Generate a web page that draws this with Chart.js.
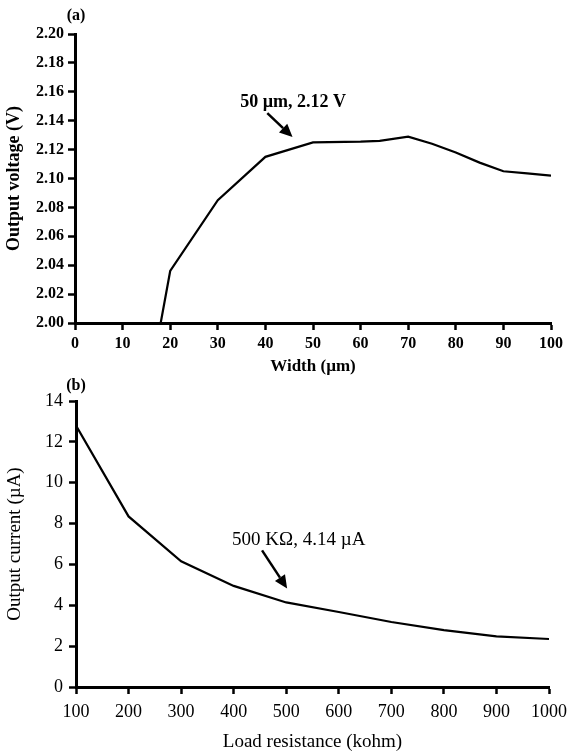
<!DOCTYPE html>
<html>
<head>
<meta charset="utf-8">
<script src="https://cdn.jsdelivr.net/npm/chart.js@4.4.1/dist/chart.umd.min.js"></script>
<style>
  html, body { margin: 0; padding: 0; background: #fff; }
  #wrapA { position: absolute; left: 0; top: 0; width: 574px; height: 380px; }
  #wrapB { position: absolute; left: 0; top: 370px; width: 574px; height: 383px; }
</style>
</head>
<body>
<div id="wrapA"><canvas id="chartA"></canvas></div>
<div id="wrapB"><canvas id="chartB"></canvas></div>
<script>
// (a) output voltage vs width
var widthUm = [18, 20, 30, 40, 50, 60, 64, 70, 75, 80, 85, 90, 95, 100];
var voltageV = [2.000, 2.036, 2.085, 2.115, 2.125, 2.1255, 2.126, 2.129, 2.124, 2.118, 2.111, 2.105, 2.1035, 2.102];
var voltageTicks = [2.00, 2.02, 2.04, 2.06, 2.08, 2.10, 2.12, 2.14, 2.16, 2.18, 2.20];
var widthTicks = [0, 10, 20, 30, 40, 50, 60, 70, 80, 90, 100];

// (b) output current vs load resistance
var loadKohm = [100, 200, 300, 400, 500, 600, 700, 800, 900, 1000];
var currentUA = [12.8, 8.35, 6.15, 4.95, 4.14, 3.67, 3.18, 2.78, 2.48, 2.35];
var currentTicks = [0, 2, 4, 6, 8, 10, 12, 14];
var loadTicks = [100, 200, 300, 400, 500, 600, 700, 800, 900, 1000];

var FONT = "'Liberation Serif', 'Times New Roman', serif";

function toPoints(xs, ys) {
  return xs.map(function (x, i) { return { x: x, y: ys[i] }; });
}

function fixedTicks(list) {
  return function (scale) {
    scale.ticks = list.map(function (v) { return { value: v }; });
  };
}

// panel letter, callout text and arrow, given in data units
var notes = {
  chartA: { tag: '(a)', tagX: 76, tagY: 16, text: '50 \u00b5m, 2.12 V', tx: 34.7, ty: 2.1495, ax: 40.4, ay: 2.1453, bx: 45.7, by: 2.1287, weight: 'bold', size: 18 },
  chartB: { tag: '(b)', tagX: 76, tagY: 16, text: '500 K\u03a9, 4.14 \u00b5A', tx: 397, ty: 6.94, ax: 454, ay: 6.69, bx: 501.7, by: 4.82, weight: 'normal', size: 19 }
};

var notePlugin = {
  id: 'notes',
  afterDraw: function (chart) {
    var n = notes[chart.canvas.id];
    var ctx = chart.ctx, xs = chart.scales.x, ys = chart.scales.y;
    ctx.save();
    ctx.fillStyle = '#000';
    ctx.strokeStyle = '#000';
    ctx.font = 'bold 16px ' + FONT;
    ctx.textAlign = 'center';
    ctx.textBaseline = 'middle';
    ctx.fillText(n.tag, n.tagX, n.tagY);

    ctx.font = n.weight + ' ' + n.size + 'px ' + FONT;
    ctx.textAlign = 'left';
    ctx.textBaseline = 'alphabetic';
    ctx.fillText(n.text, xs.getPixelForValue(n.tx), ys.getPixelForValue(n.ty));

    var x0 = xs.getPixelForValue(n.ax), y0 = ys.getPixelForValue(n.ay);
    var x1 = xs.getPixelForValue(n.bx), y1 = ys.getPixelForValue(n.by);
    var ang = Math.atan2(y1 - y0, x1 - x0);
    var head = 13, half = 6;
    var hx = x1 - head * Math.cos(ang), hy = y1 - head * Math.sin(ang);
    ctx.lineWidth = 2.5;
    ctx.beginPath();
    ctx.moveTo(x0, y0);
    ctx.lineTo(hx, hy);
    ctx.stroke();
    ctx.beginPath();
    ctx.moveTo(x1, y1);
    ctx.lineTo(hx + half * Math.sin(ang), hy - half * Math.cos(ang));
    ctx.lineTo(hx - half * Math.sin(ang), hy + half * Math.cos(ang));
    ctx.closePath();
    ctx.fill();
    ctx.restore();
  }
};

function axis(opts) {
  return {
    type: 'linear',
    min: opts.min,
    max: opts.max,
    afterBuildTicks: fixedTicks(opts.ticks),
    afterFit: function (scale) {
      if (opts.width) scale.width = opts.width;
      if (opts.height) scale.height = opts.height;
    },
    border: { display: true, color: '#000', width: 3 },
    grid: { display: true, drawOnChartArea: false, drawTicks: true, tickLength: 7, tickWidth: 2.5, tickColor: '#000' },
    ticks: {
      color: '#000',
      padding: opts.pad,
      maxRotation: 0,
      autoSkip: false,
      font: { family: FONT, size: opts.size, weight: opts.weight },
      callback: opts.fmt
    },
    title: {
      display: true,
      text: opts.title,
      color: '#000',
      padding: opts.titlePad,
      font: { family: FONT, size: opts.titleSize, weight: opts.weight }
    }
  };
}

Chart.defaults.animation = false;

new Chart(document.getElementById('chartA'), {
  type: 'line',
  data: {
    datasets: [{
      data: toPoints(widthUm, voltageV),
      borderColor: '#000',
      borderWidth: 2.2,
      pointRadius: 0,
      tension: 0,
      fill: false
    }]
  },
  options: {
    responsive: true,
    maintainAspectRatio: false,
    layout: { padding: { top: 34, right: 23, left: 0, bottom: 2 } },
    plugins: { legend: { display: false }, tooltip: { enabled: false } },
    scales: {
      x: axis({ min: 0, max: 100, ticks: widthTicks, height: 55, pad: 4, size: 16, titleSize: 17, weight: 'bold',
        title: 'Width (\u00b5m)', titlePad: { top: 0, bottom: 1 }, fmt: function (v) { return v; } }),
      y: axis({ min: 2.0, max: 2.2, ticks: voltageTicks, width: 75, pad: 4, size: 16, titleSize: 18, weight: 'bold',
        title: 'Output voltage (V)', titlePad: { top: 4, bottom: 0 }, fmt: function (v) { return v.toFixed(2); } })
    }
  },
  plugins: [notePlugin]
});

new Chart(document.getElementById('chartB'), {
  type: 'line',
  data: {
    datasets: [{
      data: toPoints(loadKohm, currentUA),
      borderColor: '#000',
      borderWidth: 2.2,
      pointRadius: 0,
      tension: 0,
      fill: false
    }]
  },
  options: {
    responsive: true,
    maintainAspectRatio: false,
    layout: { padding: { top: 31, right: 23, left: 0, bottom: 0 } },
    plugins: { legend: { display: false }, tooltip: { enabled: false } },
    scales: {
      x: axis({ min: 100, max: 1000, ticks: loadTicks, height: 66, pad: 7, size: 18, titleSize: 19, weight: 'normal',
        title: 'Load resistance (kohm)', titlePad: { top: 0, bottom: 0 }, fmt: function (v) { return v; } }),
      y: axis({ min: 0, max: 14, ticks: currentTicks, width: 76, pad: 6, size: 18, titleSize: 19, weight: 'normal',
        title: 'Output current (\u00b5A)', titlePad: { top: 4, bottom: 0 }, fmt: function (v) { return v; } })
    }
  },
  plugins: [notePlugin]
});
</script>
</body>
</html>
